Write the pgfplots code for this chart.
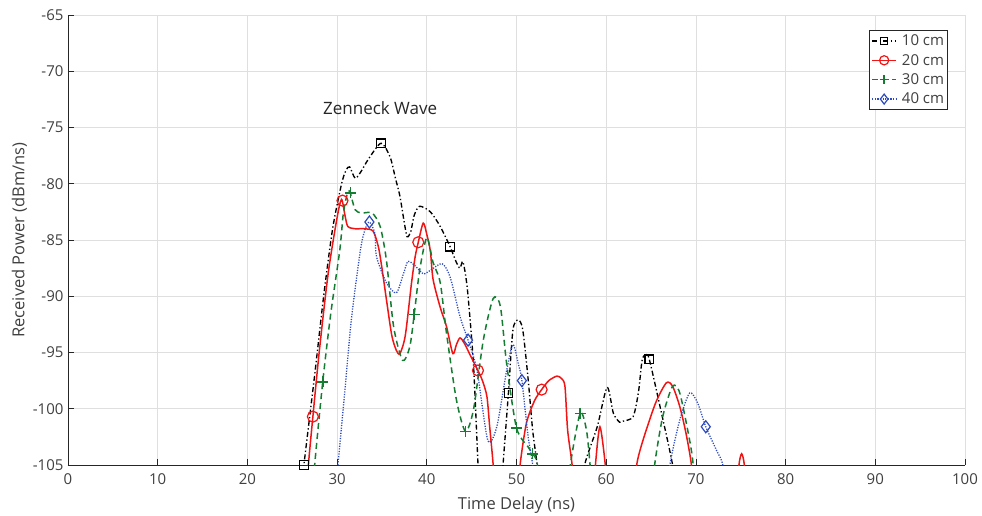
\documentclass[border=0pt]{standalone}
\usepackage{pgfplots}
\pgfplotsset{compat=1.18}
\usepackage{fontspec}
\setmainfont{Open Sans}
\definecolor{txt}{RGB}{64,64,64}
\definecolor{axc}{RGB}{38,38,38}
\definecolor{gridc}{RGB}{223,223,223}
\definecolor{cblack}{RGB}{0,0,0}
\definecolor{cred}{RGB}{240,20,20}
\definecolor{cgreen}{RGB}{20,125,50}
\definecolor{cblue}{RGB}{45,75,190}
\tikzset{
  s10/.style={cblack, line width=1.35pt, dash pattern=on 5pt off 2.5pt on 1.3pt off 2.5pt},
  s20/.style={cred, line width=1.5pt, solid},
  s30/.style={cgreen, line width=1.5pt, dash pattern=on 6pt off 4pt},
  s40/.style={cblue, line width=1.3pt, dash pattern=on 1.2pt off 1.4pt},
  m10/.style={mark=square, mark size=4.3pt, mark options={solid, line width=1.2pt, draw=cblack}},
  m20/.style={mark=o, mark size=5.5pt, mark options={solid, line width=1.2pt, draw=cred}},
  m30/.style={mark=+, mark size=5.5pt, mark options={solid, line width=1.5pt, draw=cgreen}},
  m40/.style={mark=diamond, mark size=6pt, mark options={solid, line width=1.2pt, draw=cblue}},
}
\begin{document}
\begin{tikzpicture}
\useasboundingbox (-68pt,-50pt) rectangle (914pt,465pt);
\begin{axis}[
  at={(0,0)}, anchor=south west,
  width=897pt, height=450pt, scale only axis,
  xmin=0, xmax=100, ymin=-105, ymax=-65,
  xtick={0,10,...,100}, ytick={-105,-100,...,-65},
  axis x line=bottom, axis y line=left,
  axis line style={axc, line width=0.8pt, -},
  tick align=inside, major tick length=6pt,
  tick style={axc, line width=0.8pt},
  grid=major, major grid style={gridc, line width=0.8pt},
  /pgf/number format/assume math mode=true,
  ticklabel style={font=\fontsize{15}{15}\selectfont, text=txt},
  xticklabel style={yshift=-5pt},
  yticklabel style={xshift=-1pt},
  xlabel={Time Delay (ns)}, ylabel={Received Power (dBm/ns)},
  label style={font=\fontsize{16.5}{16.5}\selectfont, text=txt},
  xlabel style={yshift=-6pt},
  ylabel style={yshift=-1pt},
  legend style={at={(rel axis cs:0.981,0.967)}, anchor=north east,
    draw=axc, line width=0.8pt, fill=white,
    font=\fontsize{15}{15}\selectfont, text=txt,
    row sep=5pt, inner xsep=2pt, inner ysep=3.5pt,
    nodes={inner xsep=1.5pt, inner ysep=1pt},
    /tikz/every odd column/.append style={column sep=3.5pt}},
  legend cell align=left,
  legend image code/.code={
    \draw[sharp plot] (0pt,0pt) -- (24pt,0pt);
    \draw[only marks] plot coordinates {(12pt,0pt)};},
  smooth, tension=0.45,
]
% legend entries
\addlegendimage{s10, m10, mark size=3.6pt}\addlegendentry{10 cm}
\addlegendimage{s20, m20, mark size=4.6pt}\addlegendentry{20 cm}
\addlegendimage{s30, m30, mark size=4.6pt}\addlegendentry{30 cm}
\addlegendimage{s40, m40, mark size=5pt}\addlegendentry{40 cm}

% 10 cm
\addplot[s10, forget plot] coordinates {
(26.0,-107.5) (26.3,-105) (27.5,-97) (28.5,-90) (29.5,-84) (30.5,-80) (31.0,-78.8) (31.4,-78.5)
(32.0,-79.5) (32.6,-79.0) (33.5,-77.8) (34.9,-76.4) (35.9,-77.6) (36.5,-79.5) (37.0,-81.1)
(37.5,-83.5) (37.8,-84.7) (38.2,-84.3) (38.6,-82.8) (39.2,-82.0) (40.4,-82.5) (41.5,-83.8)
(42.6,-85.6) (43.3,-87.0) (43.7,-87.5) (44.0,-86.9) (44.3,-88) (44.6,-90.0) (45.2,-96)
(45.7,-104.8) (45.9,-108) (47.0,-112) (48.3,-108) (48.5,-105) (49.1,-98.6) (49.6,-93)
(50.2,-92.1) (50.7,-93) (51.3,-97.4) (51.8,-101.9) (52.3,-105) (52.6,-108) (55,-112)
(57.4,-108) (57.6,-105) (59.0,-101.6) (60.1,-98.1) (60.8,-100.4) (61.5,-101.2) (61.9,-101.1)
(63.0,-100.7) (63.6,-98.5) (64.0,-95.7) (64.4,-95.2) (64.8,-95.6) (66.0,-99.8) (67.4,-105)
(67.6,-107.5)};
\addplot[only marks, m10, forget plot] coordinates {
(26.3,-105) (34.9,-76.4) (42.6,-85.6) (49.1,-98.6) (64.8,-95.6)};

% 20 cm
\addplot[s20, forget plot] coordinates {
(26.6,-108) (26.8,-105) (27.3,-100.7) (28.0,-95) (29.0,-88) (30.0,-83) (30.5,-81.4)
(30.9,-82.9) (31.2,-83.8) (32.0,-84.0) (33.0,-84.0) (34.0,-84.2) (34.6,-85.6) (35.0,-87.5)
(35.5,-90.3) (36.1,-93.5) (36.6,-94.8) (37.0,-95.1) (37.6,-93.5) (38.3,-88.8) (38.7,-86.5)
(39.05,-85.2) (39.6,-83.5) (40.0,-84.5) (40.4,-86) (40.7,-88.5) (41.5,-91) (42.2,-92.7)
(42.9,-95.1) (43.3,-94.3) (43.7,-93.7) (44.2,-94.2) (45.0,-95.5) (45.7,-96.6) (46.2,-97.5)
(46.7,-98.9) (47.0,-101.5) (47.4,-105) (47.6,-108) (49,-112) (50.2,-108) (50.4,-105)
(51.1,-101.3) (52.0,-99.3) (52.8,-98.3) (53.6,-97.5) (54.5,-97.1) (55.0,-97.3) (55.4,-98.0)
(55.7,-101.9) (56.2,-105) (56.4,-108) (57.5,-112) (58.6,-108) (58.8,-105) (59.3,-101.6)
(59.9,-105) (60.1,-108) (61.5,-112) (63.2,-108) (63.4,-105) (64.1,-102.8) (65.5,-99.5)
(66.7,-97.7) (67.4,-98) (68.2,-99.8) (68.9,-102.2) (69.5,-105) (69.7,-108) (72,-112)
(74.6,-108) (74.8,-105) (75.1,-104) (75.4,-105) (75.6,-108)};
\addplot[only marks, m20, forget plot] coordinates {
(27.3,-100.7) (30.6,-81.5) (39.05,-85.2) (45.7,-96.6) (52.8,-98.3)};

% 30 cm
\addplot[s30, forget plot] coordinates {
(27.3,-108) (27.5,-105) (28.4,-97.6) (29.3,-91.5) (30.3,-85.9) (30.7,-82.6) (31.2,-80.7)
(31.5,-80.9) (32.0,-82.3) (32.7,-82.6) (33.9,-82.6) (34.8,-83.8) (35.5,-86.8) (36.3,-92.7)
(37.3,-95.7) (38.1,-94.5) (38.6,-91.6) (39.2,-87.7) (40.0,-84.8) (40.7,-87) (41.5,-88.8)
(42.2,-93.3) (43.3,-99.2) (44.3,-102.0) (45.2,-100.1) (46.3,-93.9) (47.4,-90.2) (48.2,-90.9)
(48.9,-96.0) (50.0,-101.7) (51.3,-103.4) (51.8,-104) (52.3,-104.8) (52.6,-108) (54,-112)
(55.8,-108) (56.0,-105) (57.1,-100.4) (57.8,-101.9) (58.2,-105) (58.4,-108) (62,-112)
(65.2,-108) (65.4,-105) (66.3,-100.7) (67.4,-98) (68.2,-98.6) (69.3,-102.8) (69.7,-105)
(69.9,-108)};
\addplot[only marks, m30, forget plot] coordinates {
(28.4,-97.6) (31.5,-80.8) (38.6,-91.6) (44.3,-102.0) (50.0,-101.7) (51.8,-104) (57.1,-100.4)};

% 40 cm
\addplot[s40, forget plot] coordinates {
(29.9,-108) (30.1,-105) (30.8,-99) (31.6,-92) (32.6,-85.9) (33.1,-84.1) (33.6,-83.4)
(34.2,-84.4) (34.4,-86.5) (35.5,-88.8) (36.6,-89.7) (37.4,-88) (37.9,-86.9) (38.7,-87.3)
(39.6,-88) (40.4,-87.7) (41.7,-87.1) (42.6,-88.3) (43.7,-91.8) (44.6,-93.9) (45.6,-96.6)
(46.8,-102.8) (47.8,-101.6) (48.9,-96.6) (49.6,-94.3) (50.2,-96) (50.6,-97.5) (51.3,-102.5)
(51.8,-105) (52.0,-108) (59,-112) (66.9,-108) (67.1,-105) (68.2,-101) (69.3,-98.6)
(70.2,-99.5) (71.1,-101.6) (72.3,-103.7) (73.0,-105) (73.2,-108)};
\addplot[only marks, m40, forget plot] coordinates {
(33.6,-83.4) (44.6,-93.9) (50.6,-97.5) (71.1,-101.6)};

\node[font=\fontsize{17}{17}\selectfont, text=axc] at (axis cs:34.8,-73.3) {Zenneck Wave};
\end{axis}
\end{tikzpicture}
\end{document}
